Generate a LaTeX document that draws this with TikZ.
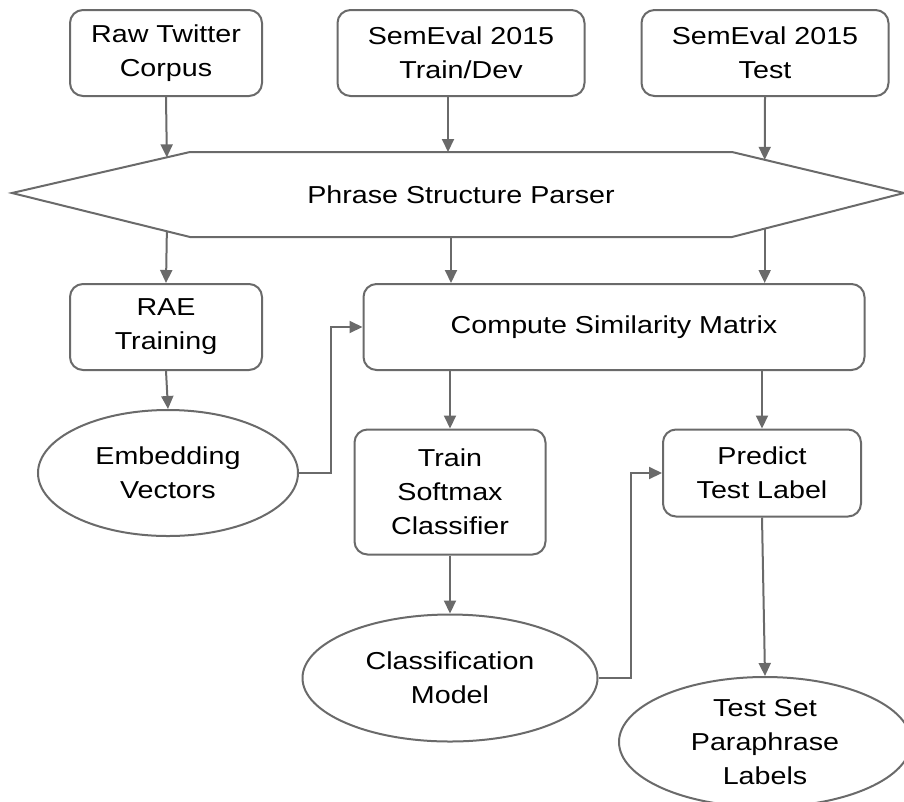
\documentclass[tikz,border=0pt]{standalone}
\usepackage{fontspec}
\setmainfont[FakeStretch=1.17]{Liberation Sans}
\usetikzlibrary{arrows.meta,shapes.geometric,calc}
\definecolor{lc}{HTML}{6A6A6A}
\tikzset{
  box/.style={draw=lc,line width=2pt,rounded corners=13pt,fill=white,align=center,inner sep=0pt,
    font=\fontsize{24.5}{34}\selectfont},
  oval/.style={draw=lc,line width=2pt,ellipse,fill=white,align=center,inner sep=0pt,
    font=\fontsize{24.5}{34}\selectfont},
  conn/.style={draw=lc,line width=2pt,-{Triangle[length=13pt,width=12pt]}},
  plain/.style={draw=lc,line width=2pt},
}
\begin{document}
\begin{tikzpicture}[x=1pt,y=-1pt]
\useasboundingbox (0,0) rectangle (904,801);
\clip (0,0) rectangle (904,801);
% top boxes
\node[box,minimum width=192pt,minimum height=86pt] (raw) at (166,53) {Raw Twitter\\Corpus};
\node[box,minimum width=247pt,minimum height=86pt] (tdev) at (461,53) {SemEval 2015\\Train/Dev};
\node[box,minimum width=247pt,minimum height=86pt] (ttest) at (765,53) {SemEval 2015\\Test};
% hexagon
\coordinate (hL) at (12,193);
\coordinate (hTL) at (190,152);
\coordinate (hTR) at (732,152);
\coordinate (hR) at (904,193);
\coordinate (hBR) at (732,237);
\coordinate (hBL) at (190,237);
\draw[plain,line join=miter] (hL) -- (hTL) -- (hTR) -- (hR) -- (hBR) -- (hBL) -- cycle;
\node[font=\fontsize{24.5}{34}\selectfont] (parser) at (461,195) {Phrase Structure Parser};
% second row
\node[box,minimum width=192pt,minimum height=86pt] (rae) at (166,327) {RAE\\Training};
\node[box,minimum width=501pt,minimum height=86pt] (comp) at (614,327) {Compute Similarity Matrix};
\node[oval,minimum width=260pt,minimum height=126pt] (emb) at (168,473) {Embedding\\Vectors};
\node[box,minimum width=191pt,minimum height=125pt] (train) at (450,492) {Train\\Softmax\\Classifier};
\node[box,minimum width=198pt,minimum height=87pt] (pred) at (762,473) {Predict\\Test Label};
\node[oval,minimum width=295pt,minimum height=127pt] (cls) at (450,678) {Classification\\Model};
\node[oval,minimum width=292pt,minimum height=130pt] (tset) at (765,742) {Test Set\\Paraphrase\\Labels};
% connectors into parser
\coordinate (pin1) at ($(hL)!0.87!(hTL)$);
\coordinate (pin3) at ($(hTR)!0.19!(hR)$);
\coordinate (pin2) at (448,152);
\draw[conn] (raw.south) -- (pin1);
\draw[conn] ([xshift=-13pt]tdev.south) -- (pin2);
\draw[conn] (ttest.south) -- (pin3);
% out of parser
\coordinate (pout1) at ($(hL)!0.87!(hBL)$);
\coordinate (pout2) at (451,237);
\coordinate (pout3) at ($(hR)!0.81!(hBR)$);
\draw[conn] (pout1) -- (rae.north);
\draw[conn] (pout2) -- (pout2 |- comp.north);
\draw[conn] (pout3) -- (pout3 |- comp.north);
% rest
\draw[conn] (rae.south) -- (emb.north);
\draw[conn] (emb.east) -- ++(32,0) |- (comp.west);
\draw[conn] (train.north |- comp.south) -- (train.north);
\draw[conn] (pred.north |- comp.south) -- (pred.north);
\draw[conn] (train.south) -- (cls.north);
\draw[conn] (cls.east) -- ++(32,0) |- (pred.west);
\draw[conn] (pred.south) -- (tset.north);
\end{tikzpicture}
\end{document}
